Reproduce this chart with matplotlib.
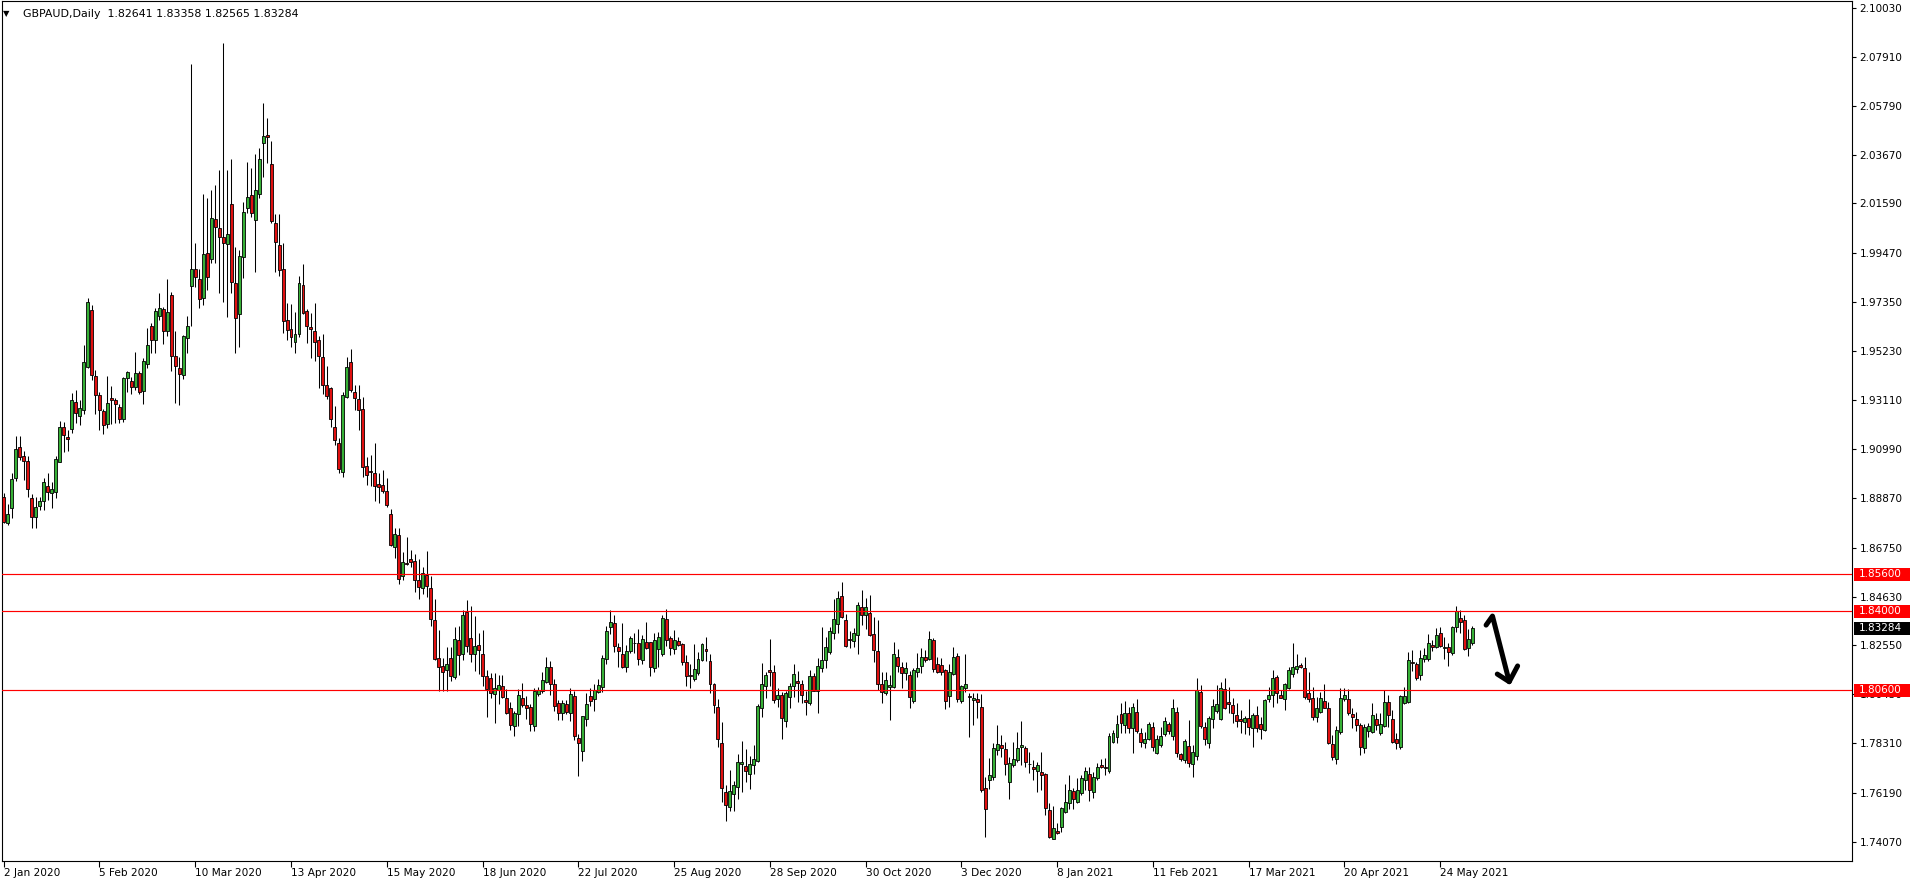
import numpy as np
import matplotlib
matplotlib.use("Agg")
import matplotlib.pyplot as plt
from matplotlib.patches import Rectangle
from matplotlib.transforms import blended_transform_factory

plt.rcParams['font.family'] = ['DejaVu Sans']

# Chart header
symbol = "GBPAUD,Daily"
header_ohlc = "1.82641 1.83358 1.82565 1.83284"

# Daily candles, 2 Jan 2020 .. early Jun 2021
opens = [
    1.8894, 1.8779, 1.8844, 1.8973, 1.9107, 1.9070, 1.9047, 1.8891, 1.8808, 1.8855,
    1.8877, 1.8940, 1.8909, 1.8916, 1.9045, 1.9193, 1.9150, 1.9185, 1.9301, 1.9243,
    1.9268, 1.9452, 1.9699, 1.9414, 1.9333, 1.9264, 1.9206, 1.9318, 1.9311, 1.9281,
    1.9228, 1.9404, 1.9393, 1.9366, 1.9426, 1.9350, 1.9466, 1.9630, 1.9570, 1.9674,
    1.9702, 1.9608, 1.9765, 1.9501, 1.9448, 1.9417, 1.9577, 1.9804, 1.9874, 1.9831,
    1.9752, 1.9943, 1.9920, 2.0090, 2.0051, 2.0012, 1.9983, 2.0156, 1.9814, 1.9680,
    1.9929, 2.0137, 2.0193, 2.0085, 2.0198, 2.0417, 2.0452, 2.0327, 2.0075, 1.9979,
    1.9876, 1.9656, 1.9617, 1.9562, 1.9594, 1.9807, 1.9695, 1.9626, 1.9608, 1.9570,
    1.9495, 1.9374, 1.9363, 1.9193, 1.9124, 1.9002, 1.9325, 1.9476, 1.9347, 1.9314,
    1.9272, 1.9026, 1.9005, 1.8995, 1.8949, 1.8945, 1.8919, 1.8819, 1.8677, 1.8728,
    1.8554, 1.8609, 1.8625, 1.8619, 1.8534, 1.8503, 1.8557, 1.8500, 1.8362, 1.8198,
    1.8163, 1.8146, 1.8198, 1.8118, 1.8275, 1.8218, 1.8399, 1.8285, 1.8218, 1.8254,
    1.8215, 1.8121, 1.8114, 1.8043, 1.8061, 1.8077, 1.8026, 1.7983, 1.7906, 1.7957,
    1.8026, 1.7995, 1.7986, 1.7906, 1.8044, 1.8057, 1.8095, 1.8160, 1.8086, 1.8005,
    1.7961, 1.8000, 1.7961, 1.8037, 1.7854, 1.7800, 1.7937, 1.8034, 1.8021, 1.8054,
    1.8075, 1.8194, 1.8331, 1.8349, 1.8246, 1.8215, 1.8161, 1.8229, 1.8262, 1.8265,
    1.8191, 1.8268, 1.8268, 1.8157, 1.8237, 1.8215, 1.8368, 1.8285, 1.8237, 1.8272,
    1.8260, 1.8180, 1.8126, 1.8108, 1.8134, 1.8191, 1.8237, 1.8185, 1.8088, 1.7988,
    1.7834, 1.7621, 1.7557, 1.7615, 1.7644, 1.7741, 1.7734, 1.7700, 1.7737, 1.7757,
    1.7983, 1.8080, 1.8149, 1.8141, 1.8021, 1.8038, 1.7926,
    1.8030, 1.8079, 1.8100,
    1.8087, 1.8017, 1.8007, 1.8122, 1.8059, 1.8158, 1.8191, 1.8227, 1.8306, 1.8345,
    1.8467, 1.8363, 1.8281, 1.8274, 1.8297, 1.8419, 1.8383, 1.8395, 1.8303, 1.8231,
    1.8086, 1.8047, 1.8076, 1.8073, 1.8202, 1.8159, 1.8133, 1.8126, 1.8016, 1.8138,
    1.8165, 1.8202, 1.8194, 1.8277, 1.8174, 1.8168, 1.8148, 1.8037, 1.8129, 1.8207,
    1.8013, 1.8069, 1.8036, 1.8017, 1.8023, 1.7990, 1.7638, 1.7672, 1.7685, 1.7803,
    1.7824, 1.7806, 1.7666, 1.7737, 1.7758, 1.7817, 1.7812, 1.7744, 1.7728, 1.7711,
    1.7708, 1.7698, 1.7544, 1.7421, 1.7452, 1.7472, 1.7537, 1.7573, 1.7626, 1.7577,
    1.7619, 1.7674, 1.7698, 1.7620, 1.7681, 1.7738, 1.7728, 1.7710, 1.7839, 1.7857,
    1.7957, 1.7911, 1.7961, 1.7896, 1.7968, 1.7875, 1.7832, 1.7849, 1.7901, 1.7791,
    1.7823, 1.7870, 1.7914, 1.7863, 1.7968, 1.7784, 1.7758,
    1.7820, 1.7741, 1.7777,
    1.8051, 1.7900, 1.7831, 1.7935, 1.7972, 1.7935, 1.8064, 1.8008, 1.7997, 1.7954,
    1.7936, 1.7925, 1.7939, 1.7899, 1.7954, 1.7915, 1.7889, 1.8021, 1.8038, 1.8119,
    1.8040, 1.8021, 1.8071, 1.8130, 1.8153, 1.8168, 1.8155, 1.8047, 1.8027, 1.7943,
    1.7968, 1.8015, 1.7984, 1.7829, 1.7765, 1.7879, 1.8021, 1.8021, 1.7958, 1.7936,
    1.7910, 1.7813, 1.7886, 1.7882, 1.7936, 1.7877, 1.7908, 1.8008, 1.7935, 1.7849,
    1.7814, 1.8007, 1.8010, 1.8182, 1.8173, 1.8127, 1.8194, 1.8194, 1.8254, 1.8245,
    1.8306, 1.8244, 1.8248, 1.8219, 1.8334, 1.8370, 1.8363, 1.8241, 1.82641,
]

highs = [
    1.8909, 1.8863, 1.8998, 1.9156, 1.9156, 1.9090, 1.9070, 1.8906, 1.8894, 1.8894,
    1.8973, 1.8998, 1.8959, 1.9070, 1.9222, 1.9218, 1.9182, 1.9340, 1.9354, 1.9311,
    1.9548, 1.9749, 1.9721, 1.9440, 1.9347, 1.9271, 1.9414, 1.9371, 1.9318, 1.9294,
    1.9412, 1.9437, 1.9412, 1.9518, 1.9437, 1.9491, 1.9621, 1.9644, 1.9709, 1.9772,
    1.9710, 1.9833, 1.9778, 1.9608, 1.9498, 1.9590, 1.9673, 2.0759, 1.9986, 1.9874,
    2.0199, 2.0182, 2.0216, 2.0238, 2.0302, 2.0849, 2.0302, 2.0348, 1.9969, 1.9958,
    2.0166, 2.0337, 2.0310, 2.0370, 2.0396, 2.0590, 2.0525, 2.0427, 2.0113, 2.0113,
    1.9986, 1.9728, 1.9723, 1.9692, 1.9846, 1.9897, 1.9702, 1.9685, 1.9728, 1.9587,
    1.9595, 1.9457, 1.9368, 1.9285, 1.9146, 1.9344, 1.9498, 1.9529, 1.9376, 1.9376,
    1.9323, 1.9067, 1.9074, 1.9124, 1.8998, 1.9011, 1.8973, 1.8842, 1.8760, 1.8760,
    1.8657, 1.8722, 1.8665, 1.8646, 1.8626, 1.8591, 1.8660, 1.8552, 1.8454, 1.8320,
    1.8200, 1.8246, 1.8246, 1.8334, 1.8338, 1.8406, 1.8449, 1.8423, 1.8380, 1.8308,
    1.8318, 1.8149, 1.8134, 1.8134, 1.8126, 1.8126, 1.8065, 1.8011, 1.7972, 1.8065,
    1.8091, 1.8034, 1.8000, 1.8072, 1.8075, 1.8137, 1.8203, 1.8188, 1.8108, 1.8018,
    1.8018, 1.8018, 1.8069, 1.8057, 1.7872, 1.7951, 1.8049, 1.8068, 1.8088, 1.8108,
    1.8211, 1.8338, 1.8406, 1.8385, 1.8265, 1.8349, 1.8257, 1.8295, 1.8306, 1.8323,
    1.8298, 1.8354, 1.8270, 1.8308, 1.8311, 1.8385, 1.8411, 1.8295, 1.8318, 1.8288,
    1.8262, 1.8214, 1.8172, 1.8260, 1.8226, 1.8265, 1.8291, 1.8218, 1.8092, 1.8023,
    1.7923, 1.7652, 1.7718, 1.7667, 1.7784, 1.7841, 1.7806, 1.7775, 1.7826, 1.8003,
    1.8177, 1.8137, 1.8280, 1.8169, 1.8068, 1.8052, 1.8057,
    1.8090, 1.8174, 1.8143,
    1.8105, 1.8057, 1.8148, 1.8133, 1.8198, 1.8334, 1.8289, 1.8334, 1.8454, 1.8488,
    1.8526, 1.8389, 1.8317, 1.8327, 1.8442, 1.8493, 1.8457, 1.8471, 1.8378, 1.8363,
    1.8141, 1.8138, 1.8126, 1.8270, 1.8237, 1.8181, 1.8182, 1.8145, 1.8155, 1.8220,
    1.8241, 1.8234, 1.8316, 1.8287, 1.8202, 1.8198, 1.8150, 1.8174, 1.8245, 1.8220,
    1.8083, 1.8217, 1.8050, 1.8047, 1.8047, 1.8043, 1.7688, 1.7770, 1.7832, 1.7911,
    1.7868, 1.7839, 1.7774, 1.7835, 1.7882, 1.7928, 1.7820, 1.7796, 1.7760, 1.7753,
    1.7794, 1.7702, 1.7576, 1.7563, 1.7487, 1.7559, 1.7656, 1.7695, 1.7638, 1.7681,
    1.7697, 1.7731, 1.7731, 1.7707, 1.7745, 1.7766, 1.7767, 1.7878, 1.7889, 1.7954,
    1.8007, 1.8016, 1.7990, 1.8004, 1.8021, 1.7896, 1.7882, 1.7925, 1.7922, 1.7868,
    1.7903, 1.7944, 1.7925, 1.8021, 1.7990, 1.7789, 1.7850,
    1.7932, 1.7824, 1.8112,
    1.8083, 1.7925, 1.7949, 1.8021, 1.8083, 1.8097, 1.8115, 1.8076, 1.8025, 1.8004,
    1.7975, 1.7949, 1.8021, 1.7961, 1.7992, 1.7946, 1.8021, 1.8076, 1.8148, 1.8126,
    1.8061, 1.8093, 1.8162, 1.8263, 1.8215, 1.8176, 1.8205, 1.8140, 1.8076, 1.8033,
    1.8054, 1.8087, 1.8008, 1.7867, 1.7906, 1.8069, 1.8069, 1.8066, 1.7982, 1.7968,
    1.7918, 1.7915, 1.7921, 1.8004, 1.7961, 1.7961, 1.8061, 1.8040, 1.7975, 1.7875,
    1.8040, 1.8076, 1.8227, 1.8234, 1.8183, 1.8234, 1.8241, 1.8303, 1.8277, 1.8327,
    1.8331, 1.8291, 1.8263, 1.8337, 1.8423, 1.8406, 1.8385, 1.8323, 1.83358,
]

lows = [
    1.8782, 1.8772, 1.8801, 1.8963, 1.9052, 1.8966, 1.8894, 1.8761, 1.8761, 1.8837,
    1.8837, 1.8880, 1.8847, 1.8891, 1.9042, 1.9088, 1.9093, 1.9168, 1.9210, 1.9203,
    1.9253, 1.9448, 1.9397, 1.9249, 1.9182, 1.9163, 1.9189, 1.9206, 1.9210, 1.9213,
    1.9218, 1.9347, 1.9337, 1.9354, 1.9337, 1.9292, 1.9448, 1.9515, 1.9516, 1.9656,
    1.9551, 1.9587, 1.9436, 1.9297, 1.9288, 1.9403, 1.9515, 1.9630, 1.9799, 1.9706,
    1.9721, 1.9787, 1.9900, 1.9900, 1.9774, 1.9735, 1.9667, 1.9771, 1.9512, 1.9538,
    1.9835, 2.0119, 2.0101, 1.9861, 2.0180, 2.0274, 2.0331, 2.0073, 1.9864, 1.9847,
    1.9601, 1.9572, 1.9541, 1.9512, 1.9584, 1.9682, 1.9558, 1.9491, 1.9479, 1.9361,
    1.9335, 1.9314, 1.9193, 1.9117, 1.8995, 1.8980, 1.9322, 1.9347, 1.9268, 1.9182,
    1.8978, 1.8945, 1.8940, 1.8876, 1.8868, 1.8911, 1.8849, 1.8680, 1.8629, 1.8518,
    1.8534, 1.8600, 1.8591, 1.8483, 1.8452, 1.8477, 1.8462, 1.8338, 1.8191, 1.8055,
    1.8055, 1.8057, 1.8098, 1.8108, 1.8126, 1.8192, 1.8226, 1.8180, 1.8145, 1.8132,
    1.8080, 1.7944, 1.8026, 1.7918, 1.8003, 1.8026, 1.7957, 1.7891, 1.7865, 1.7906,
    1.7988, 1.7938, 1.7883, 1.7883, 1.8037, 1.8049, 1.8091, 1.8038, 1.7972, 1.7934,
    1.7931, 1.7957, 1.7926, 1.7846, 1.7692, 1.7757, 1.7908, 1.7992, 1.7969, 1.8049,
    1.8054, 1.8175, 1.8303, 1.8226, 1.8160, 1.8154, 1.8138, 1.8221, 1.8221, 1.8169,
    1.8175, 1.8237, 1.8123, 1.8141, 1.8160, 1.8206, 1.8249, 1.8211, 1.8218, 1.8252,
    1.8169, 1.8080, 1.8069, 1.8098, 1.8126, 1.8185, 1.8185, 1.8049, 1.7960, 1.7815,
    1.7577, 1.7495, 1.7538, 1.7538, 1.7590, 1.7621, 1.7664, 1.7634, 1.7698, 1.7749,
    1.7944, 1.8026, 1.8080, 1.8006, 1.7988, 1.7849, 1.7900,
    1.7983, 1.8030, 1.8011,
    1.8007, 1.7954, 1.7997, 1.8057, 1.7964, 1.8141, 1.8154, 1.8215, 1.8281, 1.8309,
    1.8371, 1.8248, 1.8241, 1.8245, 1.8215, 1.8342, 1.8325, 1.8294, 1.8184, 1.8062,
    1.8004, 1.8040, 1.7932, 1.8072, 1.8141, 1.8069, 1.8105, 1.7985, 1.8007, 1.8119,
    1.8133, 1.8184, 1.8191, 1.8141, 1.8136, 1.8126, 1.7981, 1.7990, 1.8126, 1.8011,
    1.8007, 1.8054, 1.7860, 1.7911, 1.7939, 1.7620, 1.7426, 1.7633, 1.7674, 1.7781,
    1.7774, 1.7695, 1.7590, 1.7728, 1.7753, 1.7738, 1.7731, 1.7702, 1.7674, 1.7623,
    1.7631, 1.7523, 1.7425, 1.7418, 1.7441, 1.7451, 1.7530, 1.7547, 1.7547, 1.7573,
    1.7609, 1.7631, 1.7584, 1.7595, 1.7674, 1.7724, 1.7695, 1.7702, 1.7832, 1.7832,
    1.7878, 1.7875, 1.7875, 1.7789, 1.7875, 1.7814, 1.7810, 1.7846, 1.7799, 1.7784,
    1.7817, 1.7863, 1.7870, 1.7846, 1.7771, 1.7757, 1.7745,
    1.7731, 1.7688, 1.7760,
    1.7896, 1.7824, 1.7810, 1.7896, 1.7961, 1.7932, 1.7978, 1.7961, 1.7921, 1.7903,
    1.7877, 1.7872, 1.7867, 1.7814, 1.7882, 1.7849, 1.7886, 1.8011, 1.7989, 1.8004,
    1.8025, 1.7975, 1.8064, 1.8119, 1.8133, 1.8155, 1.8021, 1.8011, 1.7932, 1.7925,
    1.7961, 1.7982, 1.7829, 1.7760, 1.7741, 1.7872, 1.8015, 1.7954, 1.7896, 1.7886,
    1.7780, 1.7788, 1.7860, 1.7875, 1.7889, 1.7867, 1.7900, 1.7900, 1.7834, 1.7806,
    1.7806, 1.8001, 1.8007, 1.8145, 1.8104, 1.8104, 1.8183, 1.8188, 1.8231, 1.8241,
    1.8245, 1.8194, 1.8165, 1.8212, 1.8313, 1.8306, 1.8234, 1.8208, 1.82565,
]

closes = [
    1.8786, 1.8818, 1.8969, 1.9098, 1.9067, 1.9049, 1.8926, 1.8808, 1.8851, 1.8874,
    1.8956, 1.8916, 1.8926, 1.9055, 1.9196, 1.9161, 1.9144, 1.9311, 1.9256, 1.9275,
    1.9475, 1.9735, 1.9419, 1.9334, 1.9268, 1.9202, 1.9297, 1.9310, 1.9294, 1.9228,
    1.9404, 1.9430, 1.9366, 1.9426, 1.9344, 1.9478, 1.9547, 1.9572, 1.9693, 1.9706,
    1.9608, 1.9689, 1.9501, 1.9459, 1.9422, 1.9587, 1.9630, 1.9874, 1.9840, 1.9746,
    1.9939, 1.9840, 2.0094, 2.0055, 2.0012, 1.9986, 2.0027, 1.9818, 1.9663, 1.9930,
    2.0120, 2.0185, 2.0116, 2.0215, 2.0348, 2.0449, 2.0446, 2.0084, 1.9991, 1.9871,
    1.9653, 1.9613, 1.9581, 1.9595, 1.9814, 1.9687, 1.9631, 1.9616, 1.9562, 1.9502,
    1.9374, 1.9328, 1.9228, 1.9139, 1.9012, 1.9331, 1.9452, 1.9354, 1.9318, 1.9268,
    1.9024, 1.8988, 1.9002, 1.8940, 1.8937, 1.8919, 1.8860, 1.8688, 1.8734, 1.8539,
    1.8611, 1.8603, 1.8611, 1.8534, 1.8506, 1.8565, 1.8511, 1.8369, 1.8194, 1.8161,
    1.8140, 1.8172, 1.8123, 1.8280, 1.8211, 1.8385, 1.8252, 1.8215, 1.8249, 1.8234,
    1.8123, 1.8065, 1.8048, 1.8069, 1.8081, 1.8031, 1.7964, 1.7911, 1.7964, 1.8038,
    1.7998, 1.7983, 1.7914, 1.8055, 1.8060, 1.8103, 1.8160, 1.8086, 1.7992, 1.7964,
    1.8006, 1.7968, 1.8045, 1.7861, 1.7831, 1.7949, 1.8000, 1.8014, 1.8061, 1.8083,
    1.8200, 1.8314, 1.8354, 1.8249, 1.8231, 1.8161, 1.8229, 1.8286, 1.8265, 1.8194,
    1.8280, 1.8242, 1.8160, 1.8275, 1.8288, 1.8372, 1.8277, 1.8242, 1.8277, 1.8257,
    1.8180, 1.8121, 1.8121, 1.8152, 1.8195, 1.8260, 1.8231, 1.8088, 1.7995, 1.7849,
    1.7641, 1.7564, 1.7626, 1.7652, 1.7749, 1.7749, 1.7711, 1.7741, 1.7763, 1.7991,
    1.8086, 1.8126, 1.8137, 1.8018, 1.8038, 1.7941, 1.8049,
    1.8079, 1.8131, 1.8090,
    1.8041, 1.8011, 1.8122, 1.8059, 1.8165, 1.8191, 1.8245, 1.8316, 1.8366, 1.8457,
    1.8378, 1.8251, 1.8276, 1.8306, 1.8428, 1.8383, 1.8419, 1.8300, 1.8234, 1.8086,
    1.8053, 1.8103, 1.8082, 1.8215, 1.8164, 1.8136, 1.8156, 1.8030, 1.8148, 1.8156,
    1.8202, 1.8189, 1.8281, 1.8151, 1.8138, 1.8138, 1.8013, 1.8138, 1.8204, 1.8021,
    1.8079, 1.8086, 1.8030, 1.8026, 1.8011, 1.7631, 1.7547, 1.7694, 1.7810, 1.7829,
    1.7810, 1.7741, 1.7747, 1.7763, 1.7812, 1.7824, 1.7750, 1.7741, 1.7722, 1.7737,
    1.7697, 1.7554, 1.7429, 1.7465, 1.7447, 1.7553, 1.7577, 1.7631, 1.7590, 1.7631,
    1.7681, 1.7712, 1.7631, 1.7685, 1.7728, 1.7728, 1.7724, 1.7863, 1.7875, 1.7914,
    1.7921, 1.7961, 1.7899, 1.7987, 1.7886, 1.7835, 1.7850, 1.7914, 1.7814, 1.7850,
    1.7862, 1.7927, 1.7886, 1.7983, 1.7789, 1.7763, 1.7840,
    1.7745, 1.7794, 1.8061,
    1.7906, 1.7849, 1.7939, 1.7992, 1.8001, 1.8069, 1.7982, 1.8002, 1.7961, 1.7929,
    1.7926, 1.7939, 1.7903, 1.7954, 1.7896, 1.7892, 1.8018, 1.8041, 1.8115, 1.8047,
    1.8028, 1.8086, 1.8148, 1.8161, 1.8165, 1.8162, 1.8033, 1.8021, 1.7943, 1.7982,
    1.8027, 1.7985, 1.7834, 1.7774, 1.7889, 1.8027, 1.8040, 1.7964, 1.7943, 1.7909,
    1.7817, 1.7902, 1.7906, 1.7954, 1.7909, 1.7915, 1.8008, 1.7954, 1.7839, 1.7831,
    1.8035, 1.8035, 1.8191, 1.8176, 1.8112, 1.8198, 1.8212, 1.8263, 1.8248, 1.8297,
    1.8251, 1.8248, 1.8227, 1.8331, 1.8402, 1.8356, 1.8240, 1.8281, 1.83284,
]

date_labels = ["2 Jan 2020", "5 Feb 2020", "10 Mar 2020", "13 Apr 2020",
               "15 May 2020", "18 Jun 2020", "22 Jul 2020", "25 Aug 2020",
               "28 Sep 2020", "30 Oct 2020", "3 Dec 2020", "8 Jan 2021",
               "11 Feb 2021", "17 Mar 2021", "20 Apr 2021", "24 May 2021"]
bars_per_label = 24

price_ticks = [2.10030, 2.07910, 2.05790, 2.03670, 2.01590, 1.99470, 1.97350,
               1.95230, 1.93110, 1.90990, 1.88870, 1.86750, 1.84630, 1.82550,
               1.80430, 1.78310, 1.76190, 1.74070]

levels = [1.85600, 1.84000, 1.80600]
last_price = 1.83284

# hand drawn arrow (bar index, price)
arrow_stem_x = [371.5, 373.1, 377.3]
arrow_stem_y = [1.8341, 1.8380, 1.8097]
arrow_head_x = [374.3, 377.3, 379.4]
arrow_head_y = [1.8130, 1.8097, 1.8165]

BULL = '#36b036'
BEAR = '#e01010'

o = np.array(opens)
h = np.array(highs)
l = np.array(lows)
c = np.array(closes)
x = np.arange(len(o))
up = c >= o

W, H = 1916, 884
fig = plt.figure(figsize=(W / 100, H / 100), dpi=100)
ax = fig.add_axes([2 / W, (H - 861) / H, 1850 / W, 860 / H])

ax.vlines(x, l, h, color='black', lw=0.75, zorder=2)
body_lo = np.minimum(o, c)
body_h = np.maximum(np.abs(c - o), 0.00006)
ax.bar(x, body_h, bottom=body_lo, width=0.74,
       color=np.where(up, BULL, BEAR), edgecolor='black', linewidth=0.6, zorder=3)

for lv in levels:
    ax.axhline(lv, color='red', lw=0.85, zorder=4)

ax.plot(arrow_stem_x, arrow_stem_y, color='black', lw=3.6,
        solid_capstyle='round', solid_joinstyle='round', clip_on=False, zorder=6)
ax.plot(arrow_head_x, arrow_head_y, color='black', lw=3.6,
        solid_capstyle='round', solid_joinstyle='round', clip_on=False, zorder=6)

ax.set_xlim(-0.43, 463.2)
ax.set_ylim(1.73242, 2.10311)

ax.set_xticks(np.arange(len(date_labels)) * bars_per_label)
ax.set_xticklabels(date_labels, ha='left')
ax.tick_params(axis='x', length=4, width=0.8, pad=1, labelsize=7.6, direction='out')

ax.yaxis.tick_right()
ax.set_yticks(price_ticks)
ax.set_yticklabels([f"{v:.5f}" for v in price_ticks])
ax.tick_params(axis='y', length=3, width=0.8, pad=2.5, labelsize=7.5, direction='out')

for s in ax.spines.values():
    s.set_linewidth(0.8)
    s.set_color('black')

# price labels on the right scale (they sit on top of the scale, as in the terminal)
bt = blended_transform_factory(ax.transAxes, ax.transData)
px_price = (2.10311 - 1.73242) / 860
box_w = 56 / 1850
box_h = 13 * px_price


def price_tag(value, face):
    ax.add_patch(Rectangle((1.0011, value - box_h / 2), box_w, box_h,
                           transform=bt, clip_on=False, fc=face, ec='none', zorder=10))
    ax.text(1.0038, value, f"{value:.5f}", transform=bt, color='white',
            fontsize=7.5, va='center', ha='left', clip_on=False, zorder=11)


for lv in levels:
    price_tag(lv, 'red')
price_tag(last_price, 'black')

fig.text(6 / W, 1 - 14 / H, '\u25bc', fontsize=6, ha='center', va='center')
fig.text(22.7 / W, 1 - 14 / H, f"{symbol}  {header_ohlc}", fontsize=7.9,
         ha='left', va='center')

fig.savefig('out.png', dpi=100, facecolor='white')
